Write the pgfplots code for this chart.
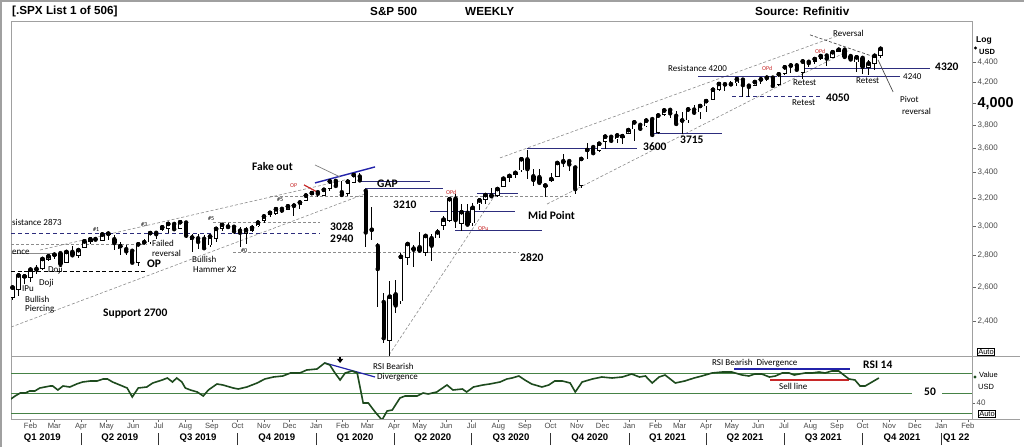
\documentclass[border=0pt]{standalone}
\usepackage{pgfplots}
\pgfplotsset{compat=1.18}
\usepackage{pgfplotstable}
\usepackage{fontspec}
\setmainfont{Liberation Sans}
\newfontfamily\calfont{Carlito}
\usetikzlibrary{arrows.meta}
\definecolor{navy}{RGB}{45,45,125}
\definecolor{dgray}{RGB}{140,140,140}
\definecolor{rsig}{RGB}{30,75,30}
\definecolor{lgreen}{RGB}{70,130,70}
\definecolor{bblue}{RGB}{35,35,170}
\definecolor{ared}{RGB}{200,40,40}
\definecolor{frame}{RGB}{160,160,160}
\newcommand{\fb}{\calfont\bfseries\fontsize{11.5}{12}\selectfont}
\newcommand{\fr}{\calfont\fontsize{9}{10}\selectfont}
\newcommand{\ft}{\calfont\fontsize{6}{7}\selectfont}
\newcommand{\fh}{\bfseries\fontsize{11.7}{12}\selectfont}

\pgfplotstableread{
d o h l c
10 2535 2597 2524 2596
17 2580 2675 2547 2671
24 2657 2672 2617 2665
31 2657 2716 2631 2707
38 2713 2738 2681 2708
45 2712 2776 2703 2776
52 2769 2794 2762 2793
59 2796 2814 2774 2804
66 2814 2816 2722 2743
73 2750 2830 2747 2822
80 2823 2860 2800 2800
87 2797 2836 2785 2834
94 2848 2894 2848 2893
101 2888 2910 2873 2907
107 2909 2918 2893 2905
115 2898 2940 2896 2940
122 2940 2954 2900 2946
129 2908 2938 2836 2881
136 2840 2892 2800 2860
143 2841 2868 2805 2826
150 2830 2841 2751 2752
157 2751 2884 2728 2873
164 2885 2911 2874 2887
171 2887 2964 2874 2950
178 2952 2959 2912 2942
185 2972 2996 2967 2990
192 2979 3014 2952 3014
199 3014 3018 2975 2977
206 2978 3028 2976 3026
213 3024 3028 2914 2932
220 2899 2944 2822 2919
227 2914 2943 2840 2889
234 2911 2939 2835 2847
241 2866 2940 2853 2926
248 2910 2985 2891 2979
255 2980 3021 2964 3007
262 2996 3022 2990 2992
269 2994 2999 2946 2962
276 2967 2993 2855 2952
283 2944 2993 2874 2970
290 2965 3008 2960 2986
297 2996 3027 2991 3023
304 3035 3066 3023 3067
311 3078 3097 3065 3093
318 3087 3120 3078 3120
325 3123 3127 3091 3110
332 3117 3154 3115 3141
339 3143 3150 3070 3146
346 3147 3183 3123 3169
353 3183 3226 3183 3221
360 3226 3248 3224 3240
367 3247 3258 3213 3235
374 3217 3275 3215 3265
381 3271 3329 3253 3330
388 3334 3338 3280 3295
395 3247 3334 3214 3226
402 3235 3348 3216 3328
409 3318 3385 3315 3380
416 3369 3393 3328 3338
423 3257 3260 2856 2954
430 2974 3137 2901 2972
437 2863 2882 2478 2711
444 2509 2562 2281 2305
451 2290 2637 2192 2541
458 2555 2641 2447 2489
464 2514 2818 2497 2790
472 2782 2880 2739 2875
479 2845 2869 2727 2837
486 2854 2954 2816 2831
493 2815 2934 2798 2930
500 2915 2945 2766 2864
507 2914 2980 2914 2955
514 3000 3068 2969 3044
521 3038 3211 3025 3194
528 3199 3233 2984 3041
535 3015 3155 2966 3098
542 3094 3155 3004 3009
548 3018 3165 2999 3130
556 3155 3187 3115 3185
563 3187 3236 3155 3225
570 3224 3280 3200 3216
577 3219 3272 3209 3271
584 3289 3352 3284 3351
591 3356 3387 3327 3373
598 3380 3399 3354 3397
605 3418 3509 3403 3508
612 3507 3588 3349 3427
619 3371 3425 3293 3341
626 3364 3429 3313 3319
633 3285 3306 3209 3298
640 3334 3398 3323 3348
647 3367 3482 3361 3477
654 3493 3550 3441 3484
661 3493 3502 3416 3465
668 3441 3441 3234 3270
675 3296 3529 3280 3510
682 3583 3646 3511 3585
689 3610 3628 3551 3558
696 3579 3645 3569 3638
703 3653 3699 3594 3699
710 3698 3712 3645 3663
717 3675 3726 3647 3709
723 3684 3711 3636 3703
730 3723 3760 3720 3756
737 3764 3827 3663 3825
744 3803 3823 3750 3768
751 3789 3861 3780 3841
758 3855 3870 3694 3714
765 3732 3894 3725 3887
772 3892 3937 3885 3934
779 3939 3950 3866 3907
786 3885 3928 3789 3811
793 3838 3915 3723 3842
800 3844 3960 3819 3943
807 3942 3983 3894 3913
814 3917 3978 3853 3975
821 3971 4020 3917 4020
829 4034 4129 4034 4129
836 4130 4191 4118 4185
843 4183 4195 4118 4180
850 4185 4218 4169 4181
857 4191 4238 4168 4232
864 4228 4237 4057 4174
871 4169 4188 4062 4156
878 4168 4219 4166 4204
885 4217 4234 4185 4230
892 4230 4249 4216 4247
899 4248 4256 4165 4166
906 4174 4287 4165 4281
913 4284 4356 4278 4352
920 4351 4372 4290 4370
927 4372 4394 4321 4327
934 4296 4415 4233 4412
941 4409 4430 4360 4395
948 4406 4441 4385 4437
955 4437 4468 4430 4468
962 4474 4480 4367 4442
969 4450 4510 4450 4509
976 4513 4545 4513 4535
983 4536 4549 4459 4459
990 4469 4486 4428 4433
997 4402 4466 4305 4455
1004 4450 4466 4288 4357
1011 4348 4429 4278 4391
1018 4385 4475 4329 4471
1025 4471 4559 4447 4545
}\spx

\pgfplotstableread{
d r
8 44
13 47
19 50
25 50
30 52
36 52
42 55
48 56
54 57
57 57
63 53
69 57
77 56
85 59
92 61
101 62
109 62
116 64
121 64
127 61
144 55
150 46
157 55
167 56
174 60
185 63
191 65
197 61
202 65
208 61
212 55
218 53
226 51
233 47
239 53
249 59
256 58
268 55
274 54
284 56
296 60
305 64
315 66
326 67
335 70
346 70
354 73
366 74
375 80
381 78
387 70
393 63
399 70
407 72
413 70
420 40
426 40
434 31
442 23
448 32
454 33
463 45
469 47
483 47
490 50
496 49
506 51
518 58
525 53
536 54
541 51
549 56
560 58
568 59
580 61
588 64
594 65
602 67
609 63
617 59
629 56
637 58
644 62
653 62
662 60
668 51
676 61
688 64
699 66
711 65
723 66
734 69
743 66
750 67
758 60
766 66
773 68
785 60
796 62
807 65
816 67
828 70
840 71
851 71
863 68
871 67
878 69
886 69
895 66
902 67
910 70
918 70
924 68
930 69
937 70
945 70
953 71
960 70
968 72
976 72
982 68
988 64
995 63
1001 57
1007 57
1013 60
1019 63
1023 65
}\rsi

\begin{document}
\begin{tikzpicture}[x=1pt,y=1pt]
\path[use as bounding box, fill=white] (0,0) rectangle (1024,447);
\draw[frame, line width=2pt] (1,0) -- (1,446) -- (1024,446);

% ---------------- price panel ----------------
\begin{axis}[
  at={(11pt,91pt)}, anchor=south west, scale only axis,
  width=961pt, height=334.3pt,
  xmin=8.2, xmax=1131.9, ymode=log, ymin=2211, ymax=4844,
  axis line style={draw=frame, line width=0.8pt},
  xtick=\empty,
  ytick={2400,2600,2800,3000,3200,3400,3600,3800,4000,4200,4400},
  yticklabels={{2,400},{2,600},{2,800},{3,000},{3,200},{3,400},{3,600},{3,800},{\textcolor{black}{\bfseries\fontsize{14.4}{15}\selectfont 4,000}},{4,200},{4,400}},
  ytick pos=right, yticklabel pos=right,
  tick align=outside, major tick length=4pt,
  tick style={draw=gray!80!black, line width=0.6pt},
  yticklabel style={font=\fontsize{8}{9}\selectfont, text=gray!60!black, inner sep=1.5pt},
  clip=true,
]
% annotation lines
\addplot[dgray, dash pattern=on 3pt off 2pt, line width=0.6pt] coordinates {(8.2,2875) (167.3,2875)};
\addplot[dgray, dash pattern=on 3pt off 2pt, line width=0.6pt] coordinates {(244.4,3028) (369.5,3028)};
\addplot[dgray, dash pattern=on 3pt off 2pt, line width=0.6pt] coordinates {(267.8,2822) (601.1,2822)};
\addplot[dgray, dash pattern=on 3pt off 2pt, line width=0.6pt] coordinates {(311.1,3218) (662,3218)};
\addplot[dgray, dash pattern=on 3pt off 2pt, line width=0.6pt] coordinates {(8.2,2366) (422.2,3234)};
\addplot[dgray, dash pattern=on 3pt off 2pt, line width=0.6pt] coordinates {(42.1,2835) (398.8,3342)};
\addplot[dgray, dash pattern=on 3pt off 2pt, line width=0.6pt] coordinates {(450.2,2216) (574.2,3226)};
\addplot[dgray, dash pattern=on 3pt off 2pt, line width=0.6pt] coordinates {(635,3158) (989.3,4534)};
\addplot[dgray, dash pattern=on 3pt off 2pt, line width=0.6pt] coordinates {(580,3519) (977.6,4696)};
\addplot[dgray, line width=0.8pt] coordinates {(8.2,2815) (59.7,2815)};
\addplot[navy, line width=0.9pt] coordinates {(934.3,4343) (1082.8,4343)};
\addplot[navy, line width=0.9pt] coordinates {(811.5,4255) (1047.8,4255)};
\addplot[navy, line width=0.9pt] coordinates {(755.4,3731) (839.6,3731)};
\addplot[navy, line width=0.9pt] coordinates {(611.6,3594) (740.2,3594)};
\addplot[navy, line width=0.9pt] coordinates {(416.3,3326) (498.2,3326)};
\addplot[navy, line width=0.9pt] coordinates {(422.2,3272) (513.4,3272)};
\addplot[navy, line width=0.9pt] coordinates {(498.2,3100) (597.6,3100)};
\addplot[navy, line width=0.9pt] coordinates {(553.1,3234) (601.1,3234)};
\addplot[navy, line width=0.9pt] coordinates {(527.4,2965) (629.1,2965)};
\addplot[navy, line width=0.9pt, dash pattern=on 4pt off 3pt] coordinates {(851.3,4060) (957.7,4060)};
\addplot[navy, line width=0.9pt, dash pattern=on 4pt off 3pt] coordinates {(8.2,2944) (369.5,2944)};
\addplot[black, line width=0.8pt, dash pattern=on 4pt off 2.5pt] coordinates {(8.2,2699) (167.3,2699)};
\addplot[bblue, line width=1.4pt] coordinates {(363.7,3318) (433.9,3445)};
\addplot[black!70, line width=0.7pt, dash pattern=on 3pt off 2pt] coordinates {(942.5,4696) (1020.8,4450)};
\addplot[black!70, line width=0.7pt] coordinates {(1022,4429) (1039.6,4108)};
\addplot[gray, line width=0.7pt] coordinates {(363.7,3461) (393,3365)};
\addplot[ared, line width=1.2pt] coordinates {(350.8,3303) (366,3249)};
% candles: wicks
\addplot[only marks, mark=none, error bars/.cd, y dir=both, y explicit, error mark=none,
  error bar style={line width=0.9pt, black, line cap=butt}]
  table[x=d, y=c, y error plus expr={\thisrow{h}-\thisrow{c}}, y error minus expr={\thisrow{c}-\thisrow{l}}] {\spx};
% bodies (black)
\addplot[only marks, mark=none, error bars/.cd, y dir=minus, y explicit, error mark=none,
  error bar style={line width=4.4pt, black, line cap=butt}]
  table[x=d, y expr={max(\thisrow{o},\thisrow{c})}, y error minus expr={abs(\thisrow{c}-\thisrow{o})}] {\spx};
% hollow interiors for rising weeks (falling weeks are sent far below the axis and clipped)
\addplot[only marks, mark=none, error bars/.cd, y dir=minus, y explicit, error mark=none,
  error bar style={line width=2.8pt, white, line cap=butt, shorten <=0.7pt, shorten >=0.7pt}]
  table[x=d, y expr={(\thisrow{c}>\thisrow{o}) ? \thisrow{c} : 100},
        y error minus expr={(\thisrow{c}>\thisrow{o}) ? (\thisrow{c}-\thisrow{o}) : 10}] {\spx};
\end{axis}

% ---------------- RSI panel ----------------
\begin{axis}[
  at={(11pt,28pt)}, anchor=south west, scale only axis,
  width=961pt, height=63pt,
  xmin=8.2, xmax=1131.9, ymin=24, ymax=87,
  axis line style={draw=frame, line width=0.8pt},
  xtick={31,59,90,120,151,181,212,243,273,304,334,365,396,425,456,486,517,547,578,609,639,670,700,731,762,790,821,851,882,912,943,974,1004,1035,1065,1096,1127},
  xticklabels={Feb,Mar,Apr,May,Jun,Jul,Aug,Sep,Oct,Nov,Dec,Jan,Feb,Mar,Apr,May,Jun,Jul,Aug,Sep,Oct,Nov,Dec,Jan,Feb,Mar,Apr,May,Jun,Jul,Aug,Sep,Oct,Nov,Dec,Jan,Feb},
  xtick pos=bottom,
  ytick={40}, yticklabels={40}, ytick pos=right, yticklabel pos=right,
  tick align=outside, major tick length=3pt,
  tick style={draw=gray!80!black, line width=0.6pt},
  xticklabel style={font=\fontsize{7.6}{8}\selectfont, text=gray!55!black, inner sep=1pt},
  yticklabel style={font=\fontsize{8}{9}\selectfont, text=gray!60!black, inner sep=1.5pt},
  clip=true,
]
\addplot[lgreen, line width=0.8pt] coordinates {(8.2,70) (1131.9,70)};
\addplot[lgreen, line width=0.8pt] coordinates {(8.2,30) (1131.9,30)};
\addplot[lgreen, line width=0.8pt] coordinates {(8.2,50) (1061.8,50)};
\addplot[lgreen, line width=0.8pt] coordinates {(1096.9,50) (1131.9,50)};
\addplot[bblue, line width=1.2pt] coordinates {(375.4,80) (433.9,66)};
\addplot[bblue, line width=1.2pt] coordinates {(853.6,74) (989.3,74)};
\addplot[ared, line width=1.2pt] coordinates {(895.7,63) (988.1,63)};
\addplot[rsig, line width=1.6pt] table[x=d, y=r] {\rsi};
\draw[-{Triangle[width=6pt,length=4pt]}, line width=1.8pt, black] (axis cs:393,86.5) -- (axis cs:393,80);
\end{axis}

% separators
\draw[frame, line width=0.8pt] (11,91) -- (1020,91);
\draw[frame, line width=0.8pt] (11,28) -- (1020,28);

% header
\node[anchor=west, inner sep=0] at (12,436) {\fh [.SPX List 1 of 506]};
\node[anchor=west, inner sep=0] at (370,436) {\fh S\&P 500};
\node[anchor=west, inner sep=0] at (465,436) {\fh WEEKLY};
\node[anchor=west, inner sep=0] at (755,436) {\fh Source: Refinitiv};

% bold annotations
\node[anchor=west, inner sep=0] at (252,280) {\fb Fake out};
\node[anchor=west, inner sep=0] at (377,263) {\fb GAP};
\node[anchor=west, inner sep=0] at (393,242) {\fb 3210};
\node[anchor=west, inner sep=0] at (330,220) {\fb 3028};
\node[anchor=west, inner sep=0] at (330,208) {\fb 2940};
\node[anchor=west, inner sep=0] at (528,231) {\fb Mid Point};
\node[anchor=west, inner sep=0] at (520,189) {\fb 2820};
\node[anchor=west, inner sep=0] at (147,183) {\fb OP};
\node[anchor=west, inner sep=0] at (103,133) {\fb Support 2700};
\node[anchor=west, inner sep=0] at (643,300) {\fb 3600};
\node[anchor=west, inner sep=0] at (680,307) {\fb 3715};
\node[anchor=west, inner sep=0] at (826,349) {\fb 4050};
\node[anchor=west, inner sep=0] at (935,380) {\fb 4320};
\node[anchor=west, inner sep=0] at (863,82) {\fb RSI 14};
\node[anchor=west, inner sep=0] at (924,55) {\fb 50};

% regular annotations
\node[anchor=west, inner sep=0] at (668,379) {\fr Resistance 4200};
\node[anchor=west, inner sep=0] at (903,370) {\fr 4240};
\node[anchor=west, inner sep=0] at (793,364) {\fr Retest};
\node[anchor=west, inner sep=0] at (792,344) {\fr Retest};
\node[anchor=west, inner sep=0] at (856,366) {\fr Retest};
\node[anchor=west, inner sep=0] at (833,414) {\fr Reversal};
\node[anchor=west, inner sep=0] at (900,348) {\fr Pivot};
\node[anchor=west, inner sep=0] at (902,336) {\fr reversal};
\node[anchor=west, inner sep=0] at (12,225) {\fr sistance 2873};
\node[anchor=west, inner sep=0] at (12,195) {\fr ence};
\node[anchor=west, inner sep=0] at (152,204) {\fr Failed};
\node[anchor=west, inner sep=0] at (152,194) {\fr reversal};
\node[anchor=west, inner sep=0] at (192,188) {\fr Bullish};
\node[anchor=west, inner sep=0] at (193,177) {\fr Hammer X2};
\node[anchor=west, inner sep=0] at (48,177) {\fr Doji};
\node[anchor=west, inner sep=0] at (39,164) {\fr Doji};
\node[anchor=west, inner sep=0] at (22,158.5) {\fr IPu};
\node[anchor=west, inner sep=0] at (25,148) {\fr Bullish};
\node[anchor=west, inner sep=0] at (25,137.5) {\fr Piercing};
\node[anchor=west, inner sep=0] at (373,81) {\fr RSI Bearish};
\node[anchor=west, inner sep=0] at (377,70) {\fr Divergence};
\node[anchor=west, inner sep=0] at (712,84) {\fr RSI Bearish\ \ Divergence};
\node[anchor=west, inner sep=0] at (779,61) {\fr Sell line};

% tiny labels
\node[anchor=west, inner sep=0, text=ared] at (762,379) {\ft OPd};
\node[anchor=west, inner sep=0, text=ared] at (815,396) {\ft OPd};
\node[anchor=west, inner sep=0, text=ared] at (290,261) {\ft OP};
\node[anchor=west, inner sep=0, text=ared] at (446,255) {\ft OPd};
\node[anchor=west, inner sep=0, text=ared] at (478,218) {\ft OPu};
\node[anchor=west, inner sep=0] at (93,218) {\ft \#1};
\node[anchor=west, inner sep=0] at (141,223) {\ft \#3};
\node[anchor=west, inner sep=0] at (208,229) {\ft \#5};
\node[anchor=west, inner sep=0] at (241,197) {\ft \#0};
\node[anchor=west, inner sep=0] at (277,248) {\ft \#5};

% right axis extras
\node[anchor=west, inner sep=0] at (976,407) {\bfseries\fontsize{8.5}{9}\selectfont Log};
\node[anchor=west, inner sep=0] at (979,395) {\bfseries\fontsize{7.5}{8}\selectfont USD};
\fill[black] (975.5,399) circle (1.6);
\node[draw=black, line width=0.6pt, inner sep=0.8pt] at (986,95) {\fontsize{7.5}{8}\selectfont Auto};
\node[anchor=west, inner sep=0] at (979,72) {\fontsize{7.5}{8}\selectfont Value};
\fill[rsig] (975,70) circle (1.6);
\node[anchor=west, inner sep=0] at (978,60) {\fontsize{7.5}{8}\selectfont USD};
\node[draw=black, line width=0.6pt, inner sep=0.8pt] at (987,33) {\fontsize{7.5}{8}\selectfont Auto};

% quarter labels
\foreach \xx/\lab in {42.4/Q1 2019, 119.9/Q2 2019, 198/Q3 2019, 276.7/Q4 2019, 355/Q1 2020, 432.8/Q2 2020, 511/Q3 2020, 589.8/Q4 2020, 667.6/Q1 2021, 745/Q2 2021, 823.2/Q3 2021, 902/Q4 2021}
  \node[inner sep=0] at (\xx,9) {\bfseries\fontsize{9.6}{10}\selectfont \lab};
\node[anchor=west, inner sep=0] at (943,9) {\bfseries\fontsize{9.6}{10}\selectfont Q1 22};
\foreach \xx in {80.9,158.8,237.4,316.1,393.9,471.8,550.4,629.1,706,783.9,862.6,941.3}
  \draw[black!80, line width=0.8pt] (\xx,2) -- (\xx,14);
\end{tikzpicture}
\end{document}
